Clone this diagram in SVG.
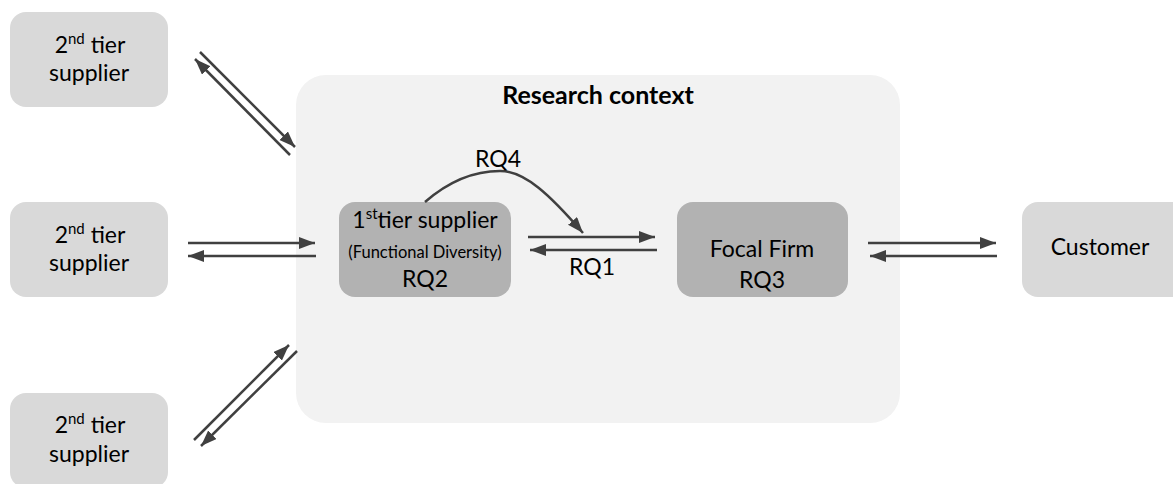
<svg xmlns="http://www.w3.org/2000/svg" width="1173" height="484" viewBox="0 0 1173 484">
  <defs>
    <style>
      .lbl { font-family: Lato, "Liberation Sans", sans-serif; font-size: 23px; fill: #000; text-anchor: middle; }
      .sup { font-size: 15px; }
      .small { font-size: 16.5px; }
      .title { font-weight: bold; font-size: 25px; }
      .outer { fill: #d9d9d9; }
      .inner { fill: #b2b2b2; }
      .ctx { fill: #f2f2f2; }
      .conn { fill: none; stroke: #404040; stroke-width: 2.5; marker-end: url(#head); }
    </style>
    <marker id="head" markerUnits="userSpaceOnUse" markerWidth="17" markerHeight="13" refX="16" refY="6" orient="auto">
      <path d="M0,0 L16,6 L0,12 z" fill="#404040"/>
    </marker>
  </defs>

  <rect width="1173" height="484" fill="#fff"/>

  <!-- research context frame -->
  <g id="research-context">
    <rect class="ctx" x="296" y="75" width="604" height="348" rx="30"/>
    <text class="lbl title" x="598" y="104">Research context</text>
  </g>

  <!-- second tier suppliers -->
  <g id="supplier2-top">
    <rect class="outer" x="10" y="12" width="158" height="95" rx="16"/>
    <text class="lbl" x="90" y="53">2<tspan class="sup" dy="-9">nd</tspan><tspan dy="9"> tier</tspan></text>
    <text class="lbl" x="89" y="81">supplier</text>
  </g>
  <g id="supplier2-mid">
    <rect class="outer" x="10" y="202" width="158" height="95" rx="16"/>
    <text class="lbl" x="90" y="243">2<tspan class="sup" dy="-9">nd</tspan><tspan dy="9"> tier</tspan></text>
    <text class="lbl" x="89" y="271">supplier</text>
  </g>
  <g id="supplier2-bottom">
    <rect class="outer" x="10" y="393" width="158" height="95" rx="16"/>
    <text class="lbl" x="90" y="433">2<tspan class="sup" dy="-9">nd</tspan><tspan dy="9"> tier</tspan></text>
    <text class="lbl" x="89" y="462">supplier</text>
  </g>

  <!-- first tier supplier -->
  <g id="supplier1">
    <rect class="inner" x="339" y="202" width="172" height="95" rx="16"/>
    <text class="lbl" x="425" y="228">1<tspan class="sup" dy="-9">st</tspan><tspan dy="9">tier supplier</tspan></text>
    <text class="lbl small" x="425" y="258">(Functional Diversity)</text>
    <text class="lbl" x="425" y="287">RQ2</text>
  </g>

  <!-- focal firm -->
  <g id="focal-firm">
    <rect class="inner" x="677" y="202" width="171" height="95" rx="16"/>
    <text class="lbl" x="762" y="257">Focal Firm</text>
    <text class="lbl" x="762" y="288">RQ3</text>
  </g>

  <!-- customer -->
  <g id="customer">
    <rect class="outer" x="1022" y="202" width="170" height="95" rx="16"/>
    <text class="lbl" x="1100" y="255">Customer</text>
  </g>

  <!-- connectors -->
  <g id="connectors">
    <path class="conn" d="M200,52 L295,147"/>
    <path class="conn" d="M290,155 L195,59"/>
    <path class="conn" d="M188,243 L315,243"/>
    <path class="conn" d="M316,256 L188,256"/>
    <path class="conn" d="M194,440 L289,345"/>
    <path class="conn" d="M297,351 L201,446"/>
    <path class="conn" d="M528,237 L655,237"/>
    <path class="conn" d="M657,250 L530,250"/>
    <path class="conn" d="M868,243 L996,243"/>
    <path class="conn" d="M997,256 L870,256"/>
    <path class="conn" d="M425,202 C448,182 472,171 500,171 C525,171 550,195 583,233"/>
    <text class="lbl" x="498" y="167">RQ4</text>
    <text class="lbl" x="592" y="275">RQ1</text>
  </g>
</svg>
